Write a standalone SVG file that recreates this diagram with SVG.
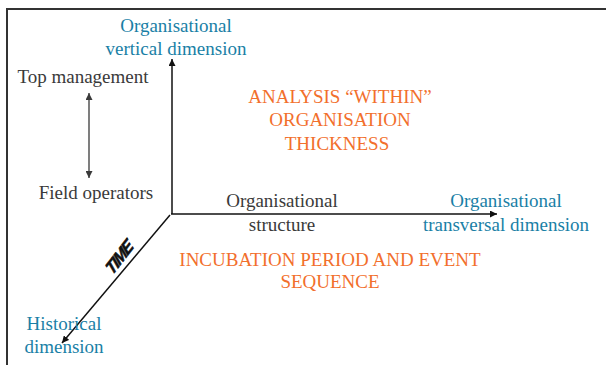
<svg xmlns="http://www.w3.org/2000/svg" width="606" height="365" viewBox="0 0 606 365">
<defs>
<style>
text.t{font-family:'Liberation Serif','Times New Roman',Tinos,'DejaVu Serif',serif;font-size:19px;text-anchor:middle}
.b{fill:#1a7fa6}
.o{fill:#f26f2c}
.k{fill:#3a3a3a}
.ax{stroke:#111;stroke-width:1.5;fill:none}
.sm{stroke:#3a3a3a;stroke-width:1.3;fill:none}
</style>
<marker id="ah" viewBox="0 0 10 10" refX="10" refY="5" markerWidth="7" markerHeight="7" markerUnits="userSpaceOnUse" orient="auto-start-reverse">
<path d="M0,0 L10,5 L0,10 z" fill="#111"/>
</marker>
<marker id="ahs" viewBox="0 0 10 10" refX="10" refY="5" markerWidth="7" markerHeight="7" markerUnits="userSpaceOnUse" orient="auto-start-reverse">
<path d="M0,0 L10,5 L0,10 z" fill="#3a3a3a"/>
</marker>
</defs>
<rect width="606" height="365" fill="#fff"/>
<path d="M7,365 V9 H606" stroke="#333" stroke-width="2" fill="none"/>
<g id="connectors">
<line class="ax" x1="172" y1="214" x2="172" y2="59" marker-end="url(#ah)"/>
<line class="ax" x1="171" y1="214" x2="497" y2="214" marker-end="url(#ah)"/>
<line class="ax" x1="170" y1="215" x2="62" y2="343" marker-end="url(#ah)"/>
<line class="sm" x1="89" y1="93" x2="89" y2="178" marker-start="url(#ahs)" marker-end="url(#ahs)"/>
</g>
<g font-family="Liberation Serif, serif">
<g id="vertical-dimension">
<text class="t b" x="176" y="32">Organisational</text>
<text class="t b" x="176" y="55">vertical dimension</text>
</g>
<g id="top-management"><text class="t k" x="83" y="83">Top management</text></g>
<g id="field-operators"><text class="t k" x="96" y="199">Field operators</text></g>
<g id="analysis">
<text class="t o" x="340" y="103">ANALYSIS “WITHIN”</text>
<text class="t o" x="340" y="126">ORGANISATION</text>
<text class="t o" x="337" y="150">THICKNESS</text>
</g>
<g id="structure">
<text class="t k" x="282" y="207">Organisational</text>
<text class="t k" x="282" y="231">structure</text>
</g>
<g id="transversal-dimension">
<text class="t b" x="506" y="207">Organisational</text>
<text class="t b" x="506" y="231">transversal dimension</text>
</g>
<g id="incubation">
<text class="t o" x="330" y="266">INCUBATION PERIOD AND EVENT</text>
<text class="t o" x="330" y="288">SEQUENCE</text>
</g>
<g id="historical-dimension">
<text class="t b" x="64" y="330">Historical</text>
<text class="t b" x="64" y="353">dimension</text>
</g>
</g>
<g id="time">
<text x="0" y="0" transform="translate(123,262) rotate(-52) skewX(-12)" font-family="'Liberation Sans',Arial,sans-serif" font-size="17" font-weight="900" font-style="italic" text-anchor="middle" letter-spacing="-1.5" fill="#111" stroke="#111" stroke-width="0.6">TIME</text>
</g>
</svg>
